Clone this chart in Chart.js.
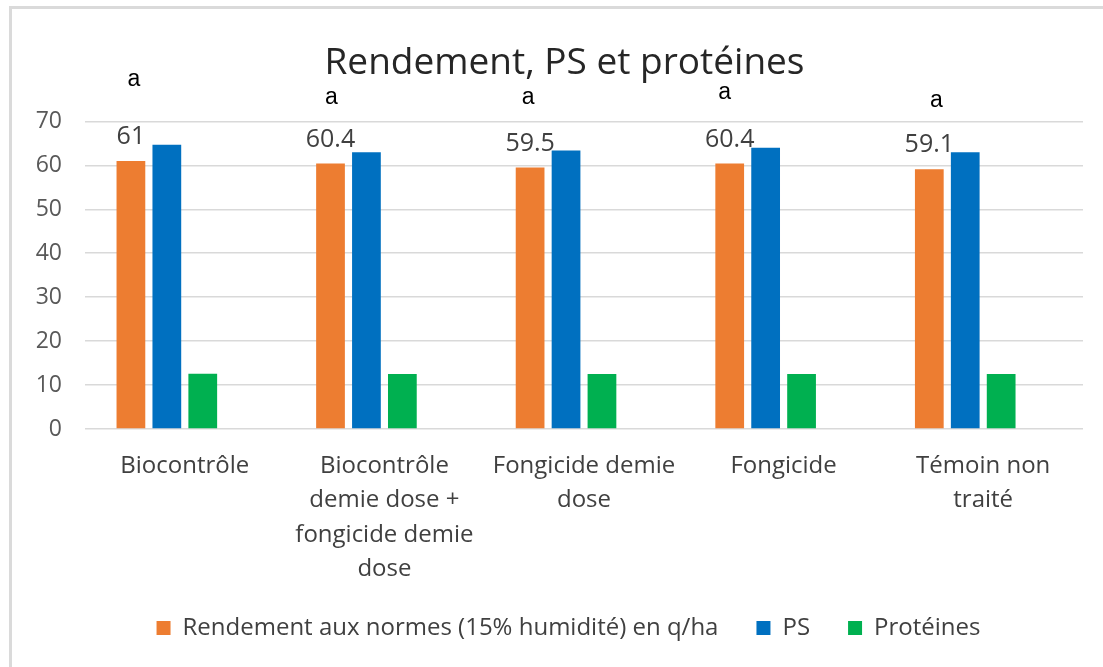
<!DOCTYPE html>
<html>
<head>
<meta charset="utf-8">
<script src="https://cdn.jsdelivr.net/npm/chart.js@4.4.0/dist/chart.umd.min.js"></script>
<style>
  html, body { margin: 0; padding: 0; background: #fff; overflow: hidden; }
  #frame { position: absolute; left: 9px; top: 6px; width: 1200px; height: 800px; border: 3px solid #dadada; }
  #wrap { position: absolute; left: 0; top: 0; width: 1103px; height: 667px; }
</style>
</head>
<body>
<div id="frame"></div>
<div id="wrap"><canvas id="barChart"></canvas></div>
<script>
// data
let categories = [
    ['Biocontrôle'],
    ['Biocontrôle', 'demie dose +', 'fongicide demie', 'dose'],
    ['Fongicide demie', 'dose'],
    ['Fongicide'],
    ['Témoin non', 'traité']
];
let rendement = [61, 60.4, 59.5, 60.4, 59.1];
let ps = [64.7, 63.0, 63.4, 64.0, 63.0];
let proteines = [12.6, 12.5, 12.5, 12.5, 12.5];
let groupLetters = ['a', 'a', 'a', 'a', 'a'];
let yTicks = [0, 10, 20, 30, 40, 50, 60, 70];

// value labels on the orange bars + the stat letters above them
const barLabels = {
    id: 'barLabels',
    afterLayout(chart, args, opts) {
        // Excel centres title and legend a bit right of the canvas centre
        chart.titleBlock.left += opts.titleShift;
        chart.titleBlock.right += opts.titleShift;
        chart.legend.left += opts.legendShift;
        chart.legend.right += opts.legendShift;
    },
    afterDatasetsDraw(chart, args, opts) {
        let ctx = chart.ctx;
        let meta = chart.getDatasetMeta(0);
        ctx.save();
        ctx.textAlign = 'center';
        ctx.textBaseline = 'middle';
        meta.data.forEach((bar, i) => {
            ctx.font = '25px "Open Sans"';
            ctx.fillStyle = '#404040';
            ctx.fillText(String(rendement[i]), bar.x, bar.y - 24);
            ctx.font = '23px "Liberation Sans"';
            ctx.fillStyle = '#000000';
            ctx.fillText(groupLetters[i], bar.x + opts.letterDx[i], bar.y - opts.letterDy[i]);
        });
        ctx.restore();
    }
};

let ctx = document.getElementById('barChart').getContext('2d');

let myBarChart = new Chart(ctx, {
    type: 'bar',
    data: {
        labels: categories,
        datasets: [
            { label: 'Rendement aux normes (15% humidité) en q/ha', data: rendement, backgroundColor: '#ED7D31' },
            { label: 'PS', data: ps, backgroundColor: '#0070C0' },
            { label: 'Protéines', data: proteines, backgroundColor: '#00B050' },
            { label: '', data: [], backgroundColor: 'transparent' } // empty slot like in the Excel chart
        ]
    },
    options: {
        responsive: true,
        maintainAspectRatio: false,
        animation: false,
        datasets: {
            bar: { categoryPercentage: 0.72, barPercentage: 0.8 }
        },
        layout: {
            padding: { top: 0, bottom: 17, left: 0, right: 20 }
        },
        scales: {
            x: {
                grid: { display: false, drawTicks: false },
                border: { display: false },
                ticks: {
                    color: '#404040',
                    font: { family: '"Open Sans"', size: 24, lineHeight: 1.43 },
                    padding: 20,
                    maxRotation: 0,
                    autoSkip: false
                },
                afterFit: (s) => { s.height = 149; }
            },
            y: {
                min: 0,
                max: 70,
                afterBuildTicks: (s) => { s.ticks = yTicks.map(v => ({ value: v })); },
                grid: { color: '#d9d9d9', lineWidth: 1.5, drawTicks: false },
                border: { display: false },
                ticks: {
                    color: '#595959',
                    font: { family: '"Open Sans"', size: 23 },
                    padding: 23
                },
                afterFit: (s) => { s.width = 85; }
            }
        },
        plugins: {
            title: {
                display: true,
                text: 'Rendement, PS et protéines',
                color: '#262626',
                font: { family: '"Open Sans"', size: 37, weight: 'normal' },
                padding: { top: 41, bottom: 36 }
            },
            legend: {
                position: 'bottom',
                labels: {
                    color: '#404040',
                    font: { family: '"Open Sans"', size: 24 },
                    boxWidth: 14,
                    boxHeight: 14,
                    padding: 38,
                    filter: (item) => item.text !== ''
                }
            },
            tooltip: { enabled: false },
            barLabels: {
                titleShift: 23,
                legendShift: 27,
                letterDx: [3, 1, -2, -5, 7],
                letterDy: [81, 66, 70, 71, 69]
            }
        }
    },
    plugins: [barLabels]
});
</script>
</body>
</html>
